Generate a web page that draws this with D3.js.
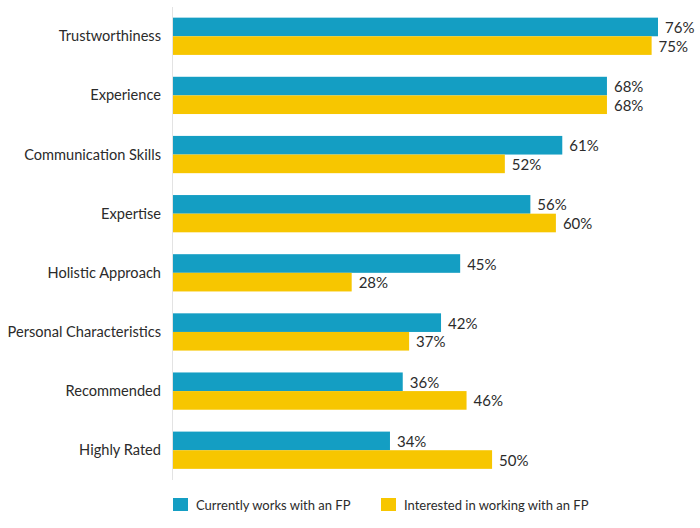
<!DOCTYPE html>
<html lang="en">

<head>
  <title>Advisor selection factors</title>
  <script src="https://cdn.jsdelivr.net/npm/d3@7"></script>
  <style>
    body { margin: 0; background: #fff; }
    text { font-family: Lato, "Open Sans", sans-serif; fill: #2b2b2b; }
  </style>
</head>

<body>
  <script>
    var categories = ["Trustworthiness", "Experience", "Communication Skills", "Expertise",
      "Holistic Approach", "Personal Characteristics", "Recommended", "Highly Rated"];
    var seriesNames = ["Currently works with an FP", "Interested in working with an FP"];
    var currentValues = [76, 68, 61, 56, 45, 42, 36, 34];
    var interestedValues = [75, 68, 52, 60, 28, 37, 46, 50];
    var colors = ["#149ec3", "#f7c600"];

    var w = 700;
    var h = 528;
    var svg = d3.select("body").append("svg")
      .attr("width", w)
      .attr("height", h);

    var x = d3.scaleLinear()
      .domain([0, 76])
      .range([173, 658]);
    var y = d3.scaleBand()
      .domain(categories)
      .range([7, 479.5])
      .paddingInner(0.37)
      .paddingOuter(0.18);
    var ySub = d3.scaleBand()
      .domain([0, 1])
      .range([0, y.bandwidth()]);

    var rows = categories.map(function (c, i) {
      return { cat: c, vals: [currentValues[i], interestedValues[i]] };
    });

    var groups = svg.selectAll(".row")
      .data(rows)
      .enter()
      .append("g")
      .attr("class", "row")
      .attr("transform", function (d) { return "translate(0," + y(d.cat) + ")"; });

    groups.selectAll("rect")
      .data(function (d) { return d.vals; })
      .enter()
      .append("rect")
      .attr("x", x(0))
      .attr("y", function (d, i) { return ySub(i); })
      .attr("width", function (d) { return x(d) - x(0); })
      .attr("height", ySub.bandwidth())
      .attr("fill", function (d, i) { return colors[i]; });

    groups.selectAll(".val")
      .data(function (d) { return d.vals; })
      .enter()
      .append("text")
      .attr("class", "val")
      .attr("x", function (d) { return x(d) + 7; })
      .attr("y", function (d, i) { return ySub(i) + ySub.bandwidth() / 2 + 6; })
      .attr("font-size", 15)
      .text(function (d) { return d + "%"; });

    groups.append("text")
      .attr("x", 161)
      .attr("y", y.bandwidth() / 2 + 5)
      .attr("text-anchor", "end")
      .attr("font-size", 14.6)
      .text(function (d) { return d.cat; });

    // axis line
    svg.append("line")
      .attr("x1", x(0) - 0.5).attr("x2", x(0) - 0.5)
      .attr("y1", 7).attr("y2", 480)
      .attr("stroke", "#e3e3e3")
      .attr("stroke-width", 1);

    // legend
    var legendX = [173, 381];
    var legend = svg.selectAll(".legend")
      .data(seriesNames)
      .enter()
      .append("g")
      .attr("class", "legend")
      .attr("transform", function (d, i) { return "translate(" + legendX[i] + ",498)"; });
    legend.append("rect")
      .attr("width", 15)
      .attr("height", 13)
      .attr("fill", function (d, i) { return colors[i]; });
    legend.append("text")
      .attr("x", 23)
      .attr("y", 12)
      .attr("font-size", 13)
      .text(function (d) { return d; });
  </script>
</body>

</html>
